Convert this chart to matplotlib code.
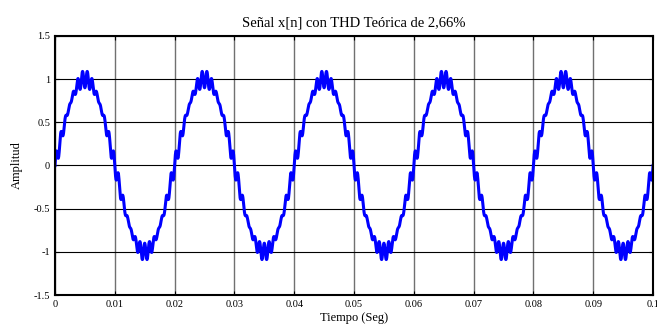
import matplotlib.pyplot as plt
import numpy as np

# signal description
f0 = 50.0                      # fundamental frequency (Hz)
duration = 0.1                 # seconds shown
harmonic_orders = [1, 23, 27]
harmonic_amps = [1.0, 0.045, 0.055]

x_ticks = [0, 0.01, 0.02, 0.03, 0.04, 0.05, 0.06, 0.07, 0.08, 0.09, 0.1]
x_tick_labels = ['0', '0.01', '0.02', '0.03', '0.04', '0.05', '0.06', '0.07', '0.08', '0.09', '0.1']
y_ticks = [-1.5, -1, -0.5, 0, 0.5, 1, 1.5]
y_tick_labels = ['-1.5', '-1', '-0.5', '0', '0.5', '1', '1.5']

t = np.linspace(0, duration, 4001)
x = np.zeros_like(t)
for k, a in zip(harmonic_orders, harmonic_amps):
    x += a * np.sin(2 * np.pi * k * f0 * t)

plt.rcParams['font.family'] = ['Liberation Serif', 'DejaVu Serif']

fig = plt.figure(figsize=(6.57, 3.30), dpi=100)
ax = fig.add_axes([0.0837, 0.106, 0.9103, 0.785])

ax.plot(t, x, color='#0000ff', linewidth=2.2)

ax.set_xlim(0, 0.1)
ax.set_ylim(-1.5, 1.5)
ax.set_xticks(x_ticks)
ax.set_xticklabels(x_tick_labels)
ax.set_yticks(y_ticks)
ax.set_yticklabels(y_tick_labels)
# vertical grid looks grey, horizontal is black
ax.xaxis.grid(True, color='#707070', linewidth=1.0, linestyle='-')
ax.yaxis.grid(True, color='black', linewidth=0.8, linestyle='-')
ax.set_axisbelow(True)
ax.tick_params(direction='in', top=True, right=True, labelsize=7.5, length=3, width=0.8)
for s in ax.spines.values():
    s.set_linewidth(1.5)

ax.set_title('Señal x[n] con THD Teórica de 2,66%', fontsize=10.5, pad=7)
ax.set_xlabel('Tiempo (Seg)', fontsize=9, labelpad=2)
ax.set_ylabel('Amplitud', fontsize=9, labelpad=8)

fig.savefig('out.png', dpi=100)
